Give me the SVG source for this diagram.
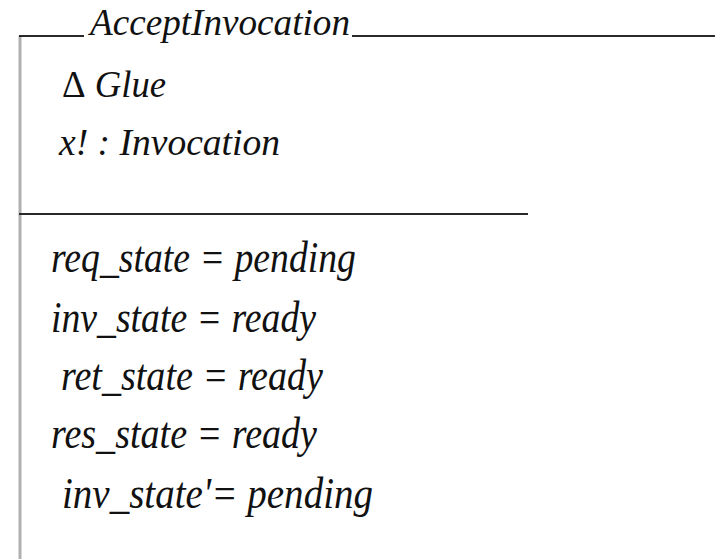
<svg xmlns="http://www.w3.org/2000/svg" width="715" height="559" viewBox="0 0 715 559">
<style>
.t{font-family:"Liberation Serif","Times New Roman",serif;font-style:italic;fill:#111}
.rule{stroke:#2a2a2a;stroke-width:2;fill:none}
.side{stroke:#b0b0b0;stroke-width:3;fill:none}
</style>
<rect width="715" height="559" fill="#fff"/>
<g id="schema">
<line class="side" x1="20" y1="36" x2="20" y2="559"/>
<line class="rule" x1="19" y1="36" x2="84" y2="36"/>
<line class="rule" x1="352" y1="36" x2="715" y2="36"/>
<line class="rule" x1="19" y1="214" x2="528" y2="214"/>
<text class="t" x="90" y="35" font-size="38" textLength="260" lengthAdjust="spacingAndGlyphs">AcceptInvocation</text>
<text class="t" x="62" y="97" font-size="38" textLength="104" lengthAdjust="spacingAndGlyphs"><tspan font-style="normal">Δ</tspan> Glue</text>
<text class="t" x="59" y="155" font-size="37" textLength="221" lengthAdjust="spacingAndGlyphs">x! : Invocation</text>
<text class="t" x="51" y="272" font-size="44" textLength="305" lengthAdjust="spacingAndGlyphs">req_state = pending</text>
<text class="t" x="51" y="332" font-size="44" textLength="265" lengthAdjust="spacingAndGlyphs">inv_state = ready</text>
<text class="t" x="61" y="390" font-size="44" textLength="262" lengthAdjust="spacingAndGlyphs">ret_state = ready</text>
<text class="t" x="51" y="448" font-size="44" textLength="266" lengthAdjust="spacingAndGlyphs">res_state = ready</text>
<text class="t" x="62" y="508" font-size="44" textLength="311" lengthAdjust="spacingAndGlyphs">inv_state'= pending</text>
</g>
</svg>
